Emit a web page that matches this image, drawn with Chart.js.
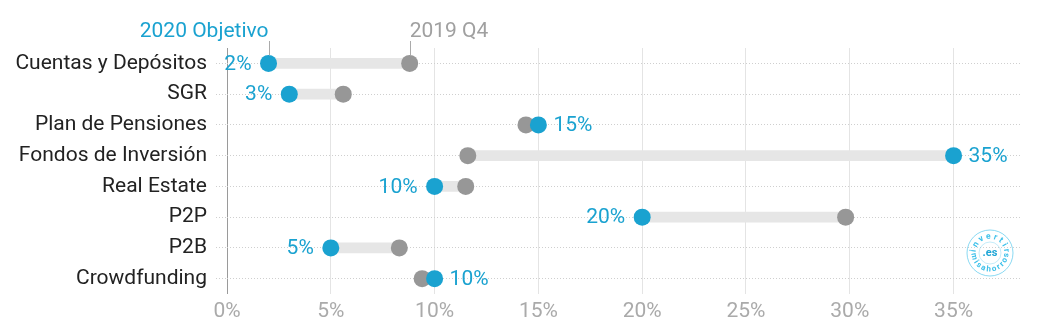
<!DOCTYPE html>
<html>
<head>
<meta charset="utf-8">
<script src="https://cdn.jsdelivr.net/npm/chart.js@4"></script>
<style>
html,body{margin:0;padding:0;background:#fff;}
#wrap{width:1042px;height:336px;position:relative;}
</style>
</head>
<body>
<div id="wrap"><canvas id="c" width="1042" height="336"></canvas></div>
<script>
const categories = ["Cuentas y Depósitos","SGR","Plan de Pensiones","Fondos de Inversión","Real Estate","P2P","P2B","Crowdfunding"];
const objetivo2020 = [2, 3, 15, 35, 10, 20, 5, 10];
const q4_2019 = [8.8, 5.6, 14.4, 11.6, 11.5, 29.8, 8.3, 9.4];
const xTicks = [0, 5, 10, 15, 20, 25, 30, 35];
const seriesNames = ["2020 Objetivo", "2019 Q4"];
const logoTop = "invertir", logoBottom = "misahorros", logoCenter = ".es";

const BLUE = '#1aa2d0', GRAY = '#979797';
const FS = 21;
Chart.defaults.font.family = 'Roboto';

const ranges = categories.map((c,i)=>[Math.min(objetivo2020[i],q4_2019[i]), Math.max(objetivo2020[i],q4_2019[i])]);

const labelPlugin = {
  id:'labels',
  afterDatasetsDraw(chart){
    const ctx = chart.ctx, xs = chart.scales.x, ys = chart.scales.y;
    ctx.save();
    ctx.font = FS + 'px Roboto';
    ctx.fillStyle = BLUE;
    ctx.textBaseline = 'middle';
    categories.forEach((c,i)=>{
      const bx = xs.getPixelForValue(objetivo2020[i]);
      const y = ys.getPixelForValue(i);
      if (objetivo2020[i] < q4_2019[i]) { ctx.textAlign='right'; ctx.fillText(objetivo2020[i]+'%', bx-17, y+1); }
      else { ctx.textAlign='left'; ctx.fillText(objetivo2020[i]+'%', bx+15, y+1); }
    });
    // header
    const bx0 = xs.getPixelForValue(objetivo2020[0]);
    const gx0 = xs.getPixelForValue(q4_2019[0]);
    const y0 = ys.getPixelForValue(0);
    ctx.strokeStyle = '#aaa'; ctx.lineWidth = 1;
    ctx.beginPath();
    ctx.moveTo(Math.round(bx0)+0.5, 41); ctx.lineTo(Math.round(bx0)+0.5, y0-8);
    ctx.moveTo(Math.round(gx0)+0.5, 41); ctx.lineTo(Math.round(gx0)+0.5, y0-8);
    ctx.stroke();
    ctx.textBaseline = 'alphabetic';
    ctx.textAlign = 'right'; ctx.fillStyle = BLUE;
    ctx.fillText(seriesNames[0], bx0, 37);
    ctx.textAlign = 'left'; ctx.fillStyle = '#a0a0a0';
    ctx.fillText(seriesNames[1], gx0, 37);
    ctx.restore();
    drawLogo(ctx, 990, 253);
  }
};

function drawLogo(ctx, cx, cy){
  ctx.save();
  const col = '#3cc0ea';
  ctx.strokeStyle = 'rgba(60,192,234,0.6)';
  ctx.lineWidth = 1;
  ctx.beginPath(); ctx.arc(cx, cy, 23, 0, Math.PI*2); ctx.stroke();
  ctx.strokeStyle = 'rgba(60,192,234,0.3)';
  ctx.beginPath(); ctx.arc(cx, cy, 11, 0, Math.PI*2); ctx.stroke();
  ctx.fillStyle = col;
  ctx.font = 'bold 8.5px Roboto';
  ctx.textAlign = 'center'; ctx.textBaseline = 'middle';
  const r = 16.5;
  const arcText = (txt, top, sp) => {
    const w = [...txt].map(ch => ctx.measureText(ch).width + sp);
    const total = w.reduce((a,b)=>a+b,0)/r;
    let acc = 0;
    [...txt].forEach((ch,k)=>{
      const a = w[k]/r;
      let ang;
      ctx.save();
      if (top) { ang = -Math.PI/2 - total/2 + acc + a/2; ctx.translate(cx+r*Math.cos(ang), cy+r*Math.sin(ang)); ctx.rotate(ang+Math.PI/2); }
      else { ang = Math.PI/2 + total/2 - acc - a/2; ctx.translate(cx+r*Math.cos(ang), cy+r*Math.sin(ang)); ctx.rotate(ang-Math.PI/2); }
      ctx.fillText(ch, 0, 0);
      ctx.restore();
      acc += a;
    });
  };
  arcText(logoTop, true, 3.2);
  ctx.font = 'bold 8px Roboto';
  arcText(logoBottom, false, 1.2);
  ctx.font = 'bold 11px Roboto';
  ctx.fillStyle = '#1fa6d6';
  ctx.fillText(logoCenter, cx, cy);
  ctx.restore();
}

new Chart(document.getElementById('c'), {
  type: 'bar',
  data: {
    labels: categories,
    datasets: [
      { type:'line', label: seriesNames[0], data: objetivo2020, showLine:false, pointRadius:8.5, pointBackgroundColor:BLUE, pointBorderWidth:0, borderColor:BLUE, order:0 },
      { type:'line', label: seriesNames[1], data: q4_2019, showLine:false, pointRadius:8.5, pointBackgroundColor:GRAY, pointBorderWidth:0, borderColor:GRAY, order:1 },
      { type:'bar', label:'range', data: ranges, backgroundColor:'#e6e6e6', barThickness:10, borderSkipped:false, order:2 }
    ]
  },
  options: {
    indexAxis: 'y',
    responsive: false,
    animation: false,
    events: [],
    layout: { padding: { top: 48, right: 22, bottom: 0, left: 0 } },
    plugins: { legend:{display:false}, tooltip:{enabled:false} },
    scales: {
      x: {
        type:'linear', min:0, max:38.2,
        ticks: { stepSize:5, includeBounds:false, color:'#aaa', font:{size:FS}, padding:5,
                 callback:(v)=> xTicks.includes(v) ? v+'%' : '' },
        grid: { drawTicks:false, color:(c)=> c.tick && c.tick.value===0 ? '#9a9a9a' : '#e4e4e4', lineWidth:1 },
        border: { display:false },
        afterFit(s){ s.height = 42; }
      },
      y: {
        type:'category', offset:true,
        ticks: { color:'#222', font:{size:FS}, padding:9 },
        grid: { offset:false, color:'#cfcfcf', tickLength:11, tickColor:'#cfcfcf', tickBorderDash:[1,2], lineWidth:1 },
        border: { display:false, dash:[1,2] },
        afterFit(s){ s.width = 227; }
      }
    }
  },
  plugins: [labelPlugin]
});
</script>
</body>
</html>
